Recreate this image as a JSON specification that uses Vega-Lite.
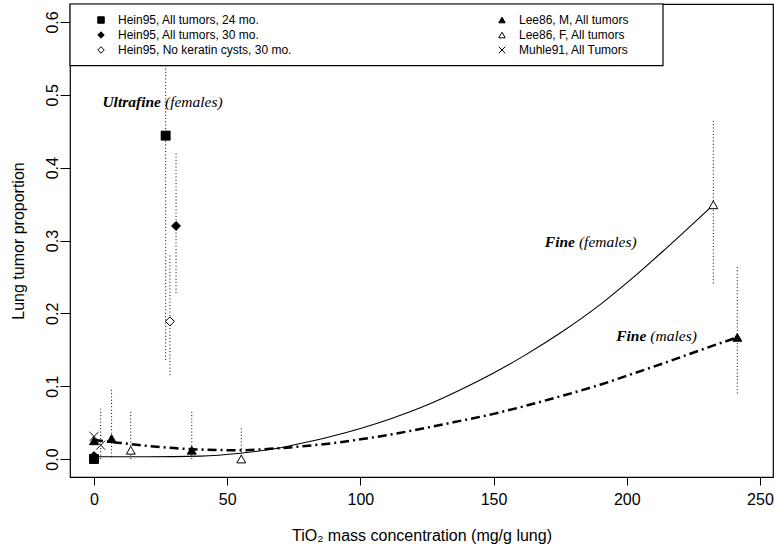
{
  "$schema": "https://vega.github.io/schema/vega-lite/v6.json",
  "width": 703,
  "height": 473,
  "autosize": {"type": "none"},
  "padding": {"left": 70, "top": 4, "right": 2, "bottom": 75},
  "background": "white",
  "config": {
    "view": {"stroke": "black", "strokeWidth": 1.2},
    "font": "Liberation Sans",
    "axis": {"labelFont": "Liberation Sans", "titleFont": "Liberation Sans", "labelColor": "black", "titleColor": "black", "tickColor": "black", "grid": false, "domain": false, "titleFontWeight": "normal"},
    "legend": {
      "title": null, "orient": "none", "legendX": 25, "legendY": 10,
      "columns": 2, "columnPadding": 204, "rowPadding": 3, "padding": 0,
      "labelFontSize": 12, "labelFont": "Liberation Sans", "labelColor": "black",
      "labelOffset": 11, "labelLimit": 300,
      "symbolSize": 42, "symbolStrokeWidth": 1
    }
  },
  "datasets": {
    "curves": [
      {"model": "female", "dose": 0, "p": 0.003},
      {"model": "female", "dose": 20, "p": 0.003},
      {"model": "female", "dose": 40, "p": 0.004},
      {"model": "female", "dose": 55, "p": 0.008},
      {"model": "female", "dose": 66, "p": 0.013},
      {"model": "female", "dose": 77, "p": 0.021},
      {"model": "female", "dose": 90, "p": 0.032},
      {"model": "female", "dose": 100, "p": 0.042},
      {"model": "female", "dose": 112, "p": 0.056},
      {"model": "female", "dose": 125, "p": 0.074},
      {"model": "female", "dose": 137, "p": 0.094},
      {"model": "female", "dose": 150, "p": 0.118},
      {"model": "female", "dose": 162, "p": 0.143},
      {"model": "female", "dose": 175, "p": 0.173},
      {"model": "female", "dose": 190, "p": 0.212},
      {"model": "female", "dose": 203, "p": 0.251},
      {"model": "female", "dose": 215, "p": 0.29},
      {"model": "female", "dose": 232.5, "p": 0.349},
      {"model": "male", "dose": 0, "p": 0.026},
      {"model": "male", "dose": 10, "p": 0.022},
      {"model": "male", "dose": 20, "p": 0.018},
      {"model": "male", "dose": 30, "p": 0.015},
      {"model": "male", "dose": 40, "p": 0.013},
      {"model": "male", "dose": 55, "p": 0.012},
      {"model": "male", "dose": 66, "p": 0.014},
      {"model": "male", "dose": 77, "p": 0.017},
      {"model": "male", "dose": 90, "p": 0.022},
      {"model": "male", "dose": 100, "p": 0.027},
      {"model": "male", "dose": 112, "p": 0.034},
      {"model": "male", "dose": 125, "p": 0.043},
      {"model": "male", "dose": 137, "p": 0.052},
      {"model": "male", "dose": 150, "p": 0.062},
      {"model": "male", "dose": 162, "p": 0.073},
      {"model": "male", "dose": 175, "p": 0.086},
      {"model": "male", "dose": 190, "p": 0.102},
      {"model": "male", "dose": 203, "p": 0.118},
      {"model": "male", "dose": 215, "p": 0.133},
      {"model": "male", "dose": 228, "p": 0.15},
      {"model": "male", "dose": 241.5, "p": 0.167}
    ],
    "bars": [
      {"dose": 26.9, "lo": 0.136, "hi": 0.6},
      {"dose": 30.8, "lo": 0.228, "hi": 0.42},
      {"dose": 28.5, "lo": 0.115, "hi": 0.28},
      {"dose": 2.5, "lo": 0.0, "hi": 0.069},
      {"dose": 6.6, "lo": 0.003, "hi": 0.098},
      {"dose": 13.8, "lo": 0.0, "hi": 0.066},
      {"dose": 36.7, "lo": 0.0, "hi": 0.065},
      {"dose": 55.3, "lo": 0.0, "hi": 0.0435},
      {"dose": 232.5, "lo": 0.241, "hi": 0.465},
      {"dose": 241.5, "lo": 0.09, "hi": 0.265}
    ],
    "legendbox": [
      {"x1": -9.01, "x2": 213.6, "y1": 0.54, "y2": 0.6247}
    ],
    "points": [
      {"series": "Hein95, All tumors, 24 mo.", "dose": 0, "p": 0.0},
      {"series": "Hein95, All tumors, 24 mo.", "dose": 26.9, "p": 0.444},
      {"series": "Hein95, All tumors, 30 mo.", "dose": 0, "p": 0.004},
      {"series": "Hein95, All tumors, 30 mo.", "dose": 30.8, "p": 0.32},
      {"series": "Hein95, No keratin cysts, 30 mo.", "dose": 28.5, "p": 0.189},
      {"series": "Lee86, M, All tumors", "dose": 0, "p": 0.025},
      {"series": "Lee86, M, All tumors", "dose": 6.6, "p": 0.028},
      {"series": "Lee86, M, All tumors", "dose": 36.7, "p": 0.012},
      {"series": "Lee86, M, All tumors", "dose": 241.5, "p": 0.167},
      {"series": "Lee86, F, All tumors", "dose": 13.8, "p": 0.012},
      {"series": "Lee86, F, All tumors", "dose": 55.3, "p": 0.0},
      {"series": "Lee86, F, All tumors", "dose": 232.5, "p": 0.349},
      {"series": "Muhle91, All Tumors", "dose": 0, "p": 0.031},
      {"series": "Muhle91, All Tumors", "dose": 2.5, "p": 0.019}
    ],
    "annot": [
      {"dose": 25.9, "p": 0.49, "bold": "Ultrafine", "ital": "(females)"},
      {"dose": 181.3, "p": 0.298, "bold": "Fine", "ital": "(females)"},
      {"dose": 208.1, "p": 0.169, "bold": "Fine", "ital": "(males)"}
    ]
  },
  "layer": [
    {
      "data": {"name": "curves"},
      "transform": [{"filter": "datum.model == 'female'"}],
      "mark": {"type": "line", "color": "black", "strokeWidth": 1.1, "interpolate": "monotone"},
      "encoding": {
        "x": {
          "field": "dose", "type": "quantitative",
          "scale": {"domain": [-9.01, 254.9], "nice": false, "zero": false},
          "axis": {
            "title": "TiO₂ mass concentration (mg/g lung)",
            "values": [0, 50, 100, 150, 200, 250],
            "tickSize": 8, "labelFontSize": 16, "labelPadding": 6,
            "titleFontSize": 16, "titlePadding": 20
          }
        },
        "y": {
          "field": "p", "type": "quantitative",
          "scale": {"domain": [-0.0247, 0.6247], "nice": false, "zero": false},
          "axis": {
            "title": "Lung tumor proportion",
            "values": [0, 0.1, 0.2, 0.3, 0.4, 0.5, 0.6],
            "format": ".1f",
            "tickSize": 10, "labelFontSize": 16, "labelPadding": 3,
            "labelAngle": -90, "labelAlign": "center", "labelBaseline": "alphabetic",
            "titleFontSize": 16, "titlePadding": 18
          }
        }
      }
    },
    {
      "data": {"name": "curves"},
      "transform": [{"filter": "datum.model == 'male'"}],
      "mark": {"type": "line", "color": "black", "strokeWidth": 2.5, "strokeDash": [9, 4, 2, 4], "interpolate": "monotone"},
      "encoding": {
        "x": {"field": "dose", "type": "quantitative"},
        "y": {"field": "p", "type": "quantitative"}
      }
    },
    {
      "data": {"name": "bars"},
      "mark": {"type": "rule", "color": "black", "strokeWidth": 1, "strokeDash": [1, 2.3]},
      "encoding": {
        "x": {"field": "dose", "type": "quantitative"},
        "y": {"field": "lo", "type": "quantitative"},
        "y2": {"field": "hi"}
      }
    },
    {
      "data": {"name": "legendbox"},
      "mark": {"type": "rect", "fill": "white", "stroke": "black", "strokeWidth": 1.2},
      "encoding": {
        "x": {"field": "x1", "type": "quantitative"},
        "x2": {"field": "x2"},
        "y": {"field": "y1", "type": "quantitative"},
        "y2": {"field": "y2"}
      }
    },
    {
      "data": {"name": "points"},
      "mark": {"type": "point", "strokeWidth": 1, "opacity": 1, "size": 80},
      "encoding": {
        "x": {"field": "dose", "type": "quantitative"},
        "y": {"field": "p", "type": "quantitative"},
        "shape": {
          "field": "series", "type": "nominal",
          "scale": {
            "domain": ["Hein95, All tumors, 24 mo.", "Hein95, All tumors, 30 mo.", "Hein95, No keratin cysts, 30 mo.", "Lee86, M, All tumors", "Lee86, F, All tumors", "Muhle91, All Tumors"],
            "range": ["square", "diamond", "diamond", "triangle-up", "triangle-up", "M-1,-1L1,1M-1,1L1,-1"]
          }
        },
        "fill": {
          "field": "series", "type": "nominal",
          "scale": {
            "domain": ["Hein95, All tumors, 24 mo.", "Hein95, All tumors, 30 mo.", "Hein95, No keratin cysts, 30 mo.", "Lee86, M, All tumors", "Lee86, F, All tumors", "Muhle91, All Tumors"],
            "range": ["black", "black", "white", "black", "white", "black"]
          }
        },
        "stroke": {
          "field": "series", "type": "nominal",
          "scale": {
            "domain": ["Hein95, All tumors, 24 mo.", "Hein95, All tumors, 30 mo.", "Hein95, No keratin cysts, 30 mo.", "Lee86, M, All tumors", "Lee86, F, All tumors", "Muhle91, All Tumors"],
            "range": ["black", "black", "black", "black", "black", "black"]
          }
        }
      }
    },
    {
      "data": {"name": "annot"},
      "mark": {"type": "text", "align": "right", "baseline": "middle", "dx": -2, "font": "Liberation Serif", "fontSize": 15.5, "fontStyle": "italic", "fontWeight": "bold", "color": "black"},
      "encoding": {
        "x": {"field": "dose", "type": "quantitative"},
        "y": {"field": "p", "type": "quantitative"},
        "text": {"field": "bold"}
      }
    },
    {
      "data": {"name": "annot"},
      "mark": {"type": "text", "align": "left", "baseline": "middle", "dx": 2, "font": "Liberation Serif", "fontSize": 15.5, "fontStyle": "italic", "fontWeight": "normal", "color": "black"},
      "encoding": {
        "x": {"field": "dose", "type": "quantitative"},
        "y": {"field": "p", "type": "quantitative"},
        "text": {"field": "ital"}
      }
    }
  ]
}
